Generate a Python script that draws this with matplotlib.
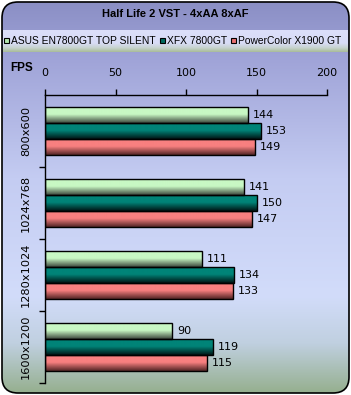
import numpy as np
import matplotlib
matplotlib.use('Agg')
import matplotlib.pyplot as plt
from matplotlib.patches import FancyBboxPatch, Rectangle
from matplotlib.colors import LinearSegmentedColormap

# chart data
resolutions = ['800x600', '1024x768', '1280x1024', '1600x1200']
series_names = ['ASUS EN7800GT TOP SILENT', 'XFX 7800GT', 'PowerColor X1900 GT']
asus = [144, 141, 111, 90]
xfx = [153, 150, 134, 119]
powercolor = [149, 147, 133, 115]
x_ticks = [0, 50, 100, 150, 200]

# (top colour, bottom colour) of each bar gradient
bar_colors = [('#c8f8c4', '#3c463c'), ('#008478', '#001414'), ('#f88080', '#502424')]
legend_colors = ['#b4e8b0', '#006a60', '#e87070']

W, H = 351, 395
fig = plt.figure(figsize=(W / 100, H / 100), dpi=100)
fig.patch.set_facecolor('white')

# background panel with rounded border
bg = fig.add_axes([0, 0, 1, 1])
bg.axis('off')
stops = [(0.0, '#8a8ec4'), (0.15, '#a0a4d8'), (0.45, '#c4ccf2'), (0.75, '#d2dcfa'),
         (0.87, '#c0d0e0'), (1.0, '#94ae8c')]
bg_cmap = LinearSegmentedColormap.from_list('bg', stops)
grad = np.linspace(0, 1, 256).reshape(-1, 1)
panel = FancyBboxPatch((2, 2), W - 4, H - 4, boxstyle='round,pad=0,rounding_size=16',
                       facecolor='none', edgecolor='black', linewidth=1.2, zorder=3)
bg.add_patch(panel)
im = bg.imshow(grad, cmap=bg_cmap, extent=[0, W, H, 0], aspect='auto', zorder=0)
im.set_clip_path(panel)

# legend strip
strip_cmap = LinearSegmentedColormap.from_list(
    'strip', [(0, '#dcdffa'), (0.6, '#d8dcf6'), (0.8, '#c8d4d0'), (1.0, '#a8bc98')])
strip = Rectangle((3, 30), W - 6, 22, facecolor='none', edgecolor='none')
bg.add_patch(strip)
sim = bg.imshow(grad, cmap=strip_cmap, extent=[3, W - 3, 52, 30], aspect='auto', zorder=1)
sim.set_clip_path(strip)
bg.set_xlim(0, W)
bg.set_ylim(H, 0)

fig.text(0.5, 1 - 14 / H, 'Half Life 2 VST - 4xAA 8xAF', ha='center', va='center',
         fontsize=8, fontweight='bold', family='Liberation Sans')
fig.text(10 / W, 1 - 68 / H, 'FPS', ha='left', va='center', fontsize=8.5,
         fontweight='bold', family='Liberation Sans')

# legend entries drawn by hand, one row, spaced by measured text width
renderer = fig.canvas.get_renderer()
lx = 4
for name, col in zip(series_names, legend_colors):
    bg.add_patch(Rectangle((lx, 38), 5, 5, facecolor=col, edgecolor='black', linewidth=0.8, zorder=4))
    t = bg.text(lx + 7, 40.5, name, ha='left', va='center', fontsize=7.4,
                family='Liberation Sans', zorder=4)
    lx = t.get_window_extent(renderer).x1 + 4

# main plot
ax = fig.add_axes([45 / W, 1 - 383 / H, (327 - 45) / W, (383 - 95) / H])
ax.patch.set_alpha(0)
series = [asus, xfx, powercolor]
bar_h = 0.222
offsets = [-bar_h, 0, bar_h]
for vals, off, (c_top, c_bot) in zip(series, offsets, bar_colors):
    cmap = LinearSegmentedColormap.from_list('b', [(0, c_top), (0.45, c_top), (1, c_bot)])
    for i, v in enumerate(vals):
        y0 = i + off - bar_h / 2
        rect = Rectangle((0, y0), v, bar_h, facecolor='none', edgecolor='black',
                         linewidth=1.0, zorder=3)
        ax.add_patch(rect)
        gim = ax.imshow(grad, cmap=cmap, extent=[0, v, y0 + bar_h, y0], aspect='auto', zorder=2)
        gim.set_clip_path(rect)
        ax.text(v + 3.5, i + off, str(v), ha='left', va='center', fontsize=8, zorder=4)

ax.set_xlim(0, 200)
ax.set_ylim(3.5, -0.5)
ax.set_aspect('auto')
ax.xaxis.tick_top()
ax.set_xticks(x_ticks)
ax.set_xticklabels([str(t) for t in x_ticks], fontsize=8)
ax.tick_params(axis='x', direction='out', length=4, width=1, pad=8)
ax.set_yticks(range(len(resolutions)))
ax.set_yticklabels(resolutions, rotation=90, va='center', fontsize=8.2)
ax.set_yticks([0.5, 1.5, 2.5, 3.5], minor=True)
ax.tick_params(axis='y', which='major', length=0, pad=10)
ax.tick_params(axis='y', which='minor', length=4, width=1, direction='out')
for s in ['right', 'bottom']:
    ax.spines[s].set_visible(False)
ax.spines['top'].set_linewidth(1)
ax.spines['left'].set_linewidth(1)

fig.savefig('out.png', dpi=100)
